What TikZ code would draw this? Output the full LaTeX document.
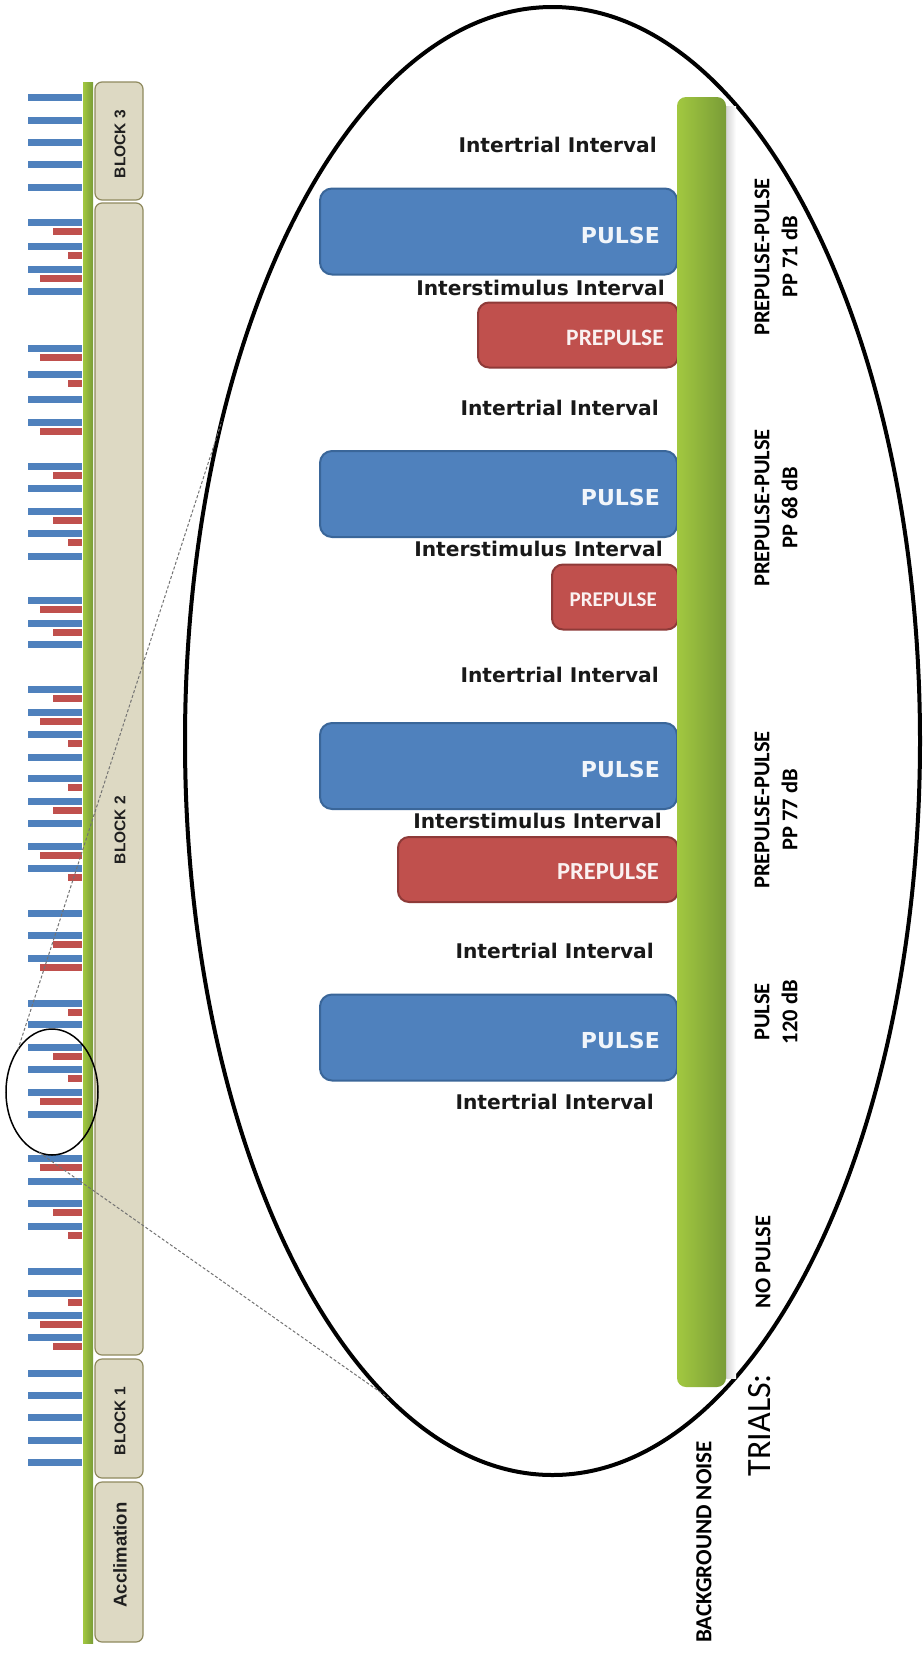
\documentclass[tikz,border=0pt]{standalone}
\usepackage{fontspec}
\usetikzlibrary{shapes.geometric}
\newfontfamily\dvs{DejaVu Sans}
\newfontfamily\carl{Carlito}
\newfontfamily\lib{Liberation Sans}
\definecolor{cblue}{HTML}{4F81BD}
\definecolor{cbluedk}{HTML}{3A6699}
\definecolor{cred}{HTML}{C0504D}
\definecolor{creddk}{HTML}{8E3A38}
\definecolor{cgreenL}{HTML}{A2C840}
\definecolor{cgreenR}{HTML}{799C37}
\definecolor{cgreen}{HTML}{8BB841}
\definecolor{cbeige}{HTML}{DDD9C3}
\definecolor{cbeigedk}{HTML}{8F8A5E}
\begin{document}
\begin{tikzpicture}[x=1pt,y=-1pt,
  bluebar/.style={fill=cblue},
  redbar/.style={fill=cred},
  blockbox/.style={draw=cbeigedk, line width=1.2pt, fill=cbeige, rounded corners=7pt, minimum width=48pt, inner sep=0pt, outer sep=0pt},
  blocklab/.style={rotate=90, inner sep=0pt, font=\lib\bfseries\fontsize{15.5}{18}\selectfont, text=black!88},
  pulsebox/.style={draw=cbluedk, line width=2pt, fill=cblue, rounded corners=12pt, inner sep=0pt, minimum height=86pt},
  prebox/.style={draw=creddk, line width=2pt, fill=cred, rounded corners=11pt, inner sep=0pt, minimum height=65pt},
  pulsetxt/.style={anchor=east, inner sep=0pt, text=white!92!cblue, font=\dvs\bfseries\fontsize{22}{24}\selectfont},
  pretxt/.style={anchor=east, inner sep=0pt, text=white!92!cred, font=\carl\bfseries\fontsize{23.5}{26}\selectfont},
  interval/.style={anchor=east, inner sep=0pt, font=\dvs\bfseries\fontsize{20.2}{22}\selectfont, text=black!90},
  triallab/.style={rotate=90, align=center, inner sep=0pt, font=\carl\bfseries\fontsize{22.5}{28}\selectfont},
  zoomline/.style={draw=black!55, line width=1pt, dash pattern=on 3pt off 2pt},
]
\fill[white] (0,0) rectangle (922,1655);
\useasboundingbox (0,0) rectangle (922,1655);

% ---- left overview strip: trials ----
\foreach \b in {97,120,142,164,187,222,246,269,291,348,374,399,422,466,488,511,533,556,600,623,644,689,712,734,757,778,801,823,846,868,913,935,958,1003,1024,1047,1069,1092,1114,1158,1181,1203,1226,1271,1293,1315,1337,1373,1395,1417,1440,1462}
  \fill[bluebar] (28,\b-3.5) rectangle (82,\b+3.5);
\foreach \b/\s in {222/53,246/68,269/40,348/40,374/68,422/40,466/53,511/53,533/68,600/40,623/53,689/53,712/40,734/68,778/68,801/53,846/40,868/68,935/53,958/40,1003/68,1047/53,1069/68,1092/40,1158/40,1203/53,1226/68,1293/68,1315/40,1337/53}
  \fill[redbar] (\s,\b+6) rectangle (82,\b+13);

\node[left color=cgreenL, right color=cgreenR, minimum width=10pt, minimum height=1561pt, inner sep=0pt, outer sep=0pt] (timeline) at (88,862.5) {};

\node[blockbox, minimum height=118pt] (blk3) at (119,141) {};
\node[blockbox, minimum height=1152pt] (blk2) at (119,779) {};
\node[blockbox, minimum height=119pt] (blk1) at (119,1418.5) {};
\node[blockbox, minimum height=160pt] (accl) at (119,1562) {};
\node[blocklab] (blk3t) at (120,144) {BLOCK 3};
\node[blocklab] (blk2t) at (120,830) {BLOCK 2};
\node[blocklab] (blk1t) at (120,1421) {BLOCK 1};
\node[blocklab, font=\lib\bfseries\fontsize{18.5}{20}\selectfont] (acclt) at (120,1555) {Acclimation};

% ---- ellipses and zoom lines ----
\node[draw, ellipse, line width=1.5pt, minimum width=92pt, minimum height=126pt, inner sep=0pt, outer sep=0pt] (smallE) at (52,1092) {};
\node[draw, ellipse, line width=4pt, minimum width=735pt, minimum height=1468pt, inner sep=0pt, outer sep=0pt] (bigE) at (552.5,741) {};
\draw[zoomline] (smallE.129.8) -- (bigE.136.1);
\draw[zoomline] (smallE.258.9) -- (bigE.256.6);

% ---- stimulus boxes ----
\node[pulsebox, minimum width=357pt] (p1) at (498.5,231.5) {};
\node[pulsebox, minimum width=357pt] (p2) at (498.5,494) {};
\node[pulsebox, minimum width=357pt] (p3) at (498.5,766) {};
\node[pulsebox, minimum width=357pt] (p4) at (498.5,1037.5) {};
\node[prebox, minimum width=200pt] (r1) at (578,335) {};
\node[prebox, minimum width=126pt] (r2) at (615,597) {};
\node[prebox, minimum width=280pt] (r3) at (538,869.5) {};

% ---- background noise bar ----
\shade[left color=black!18, right color=white] (725,106) rectangle (736,1378);
\node[rounded corners=9pt, minimum width=49pt, minimum height=1290pt, left color=cgreenL, right color=cgreenR, inner sep=0pt, outer sep=0pt] (noise) at (701.5,742) {};

% ---- box texts ----
\node[pulsetxt] (p1t) at (660,235) {PULSE};
\node[pulsetxt] (p2t) at (660,497) {PULSE};
\node[pulsetxt] (p3t) at (660,769) {PULSE};
\node[pulsetxt] (p4t) at (660,1040) {PULSE};
\node[pretxt] (r1t) at (664,338) {PREPULSE};
\node[pretxt, font=\carl\bfseries\fontsize{21}{24}\selectfont] (r2t) at (657,600) {PREPULSE};
\node[pretxt, font=\carl\bfseries\fontsize{24.5}{27}\selectfont] (r3t) at (659,872) {PREPULSE};

% ---- interval texts ----
\node[interval] (i1) at (657,145) {Intertrial Interval};
\node[interval] (s1) at (665,288) {Interstimulus Interval};
\node[interval] (i2) at (659,408) {Intertrial Interval};
\node[interval] (s2) at (663,549) {Interstimulus Interval};
\node[interval] (i3) at (659,675) {Intertrial Interval};
\node[interval] (s3) at (662,821) {Interstimulus Interval};
\node[interval] (i4) at (654,951) {Intertrial Interval};
\node[interval] (i5) at (654,1102) {Intertrial Interval};

% ---- trial labels ----
\node[triallab] (t1) at (776,257) {PREPULSE-PULSE\\PP 71 dB};
\node[triallab] (t2) at (776,508) {PREPULSE-PULSE\\PP 68 dB};
\node[triallab] (t3) at (776,810) {PREPULSE-PULSE\\PP 77 dB};
\node[triallab] (t4) at (776,1012) {PULSE\\120 dB};
\node[triallab] (t5) at (763,1262) {NO PULSE};
\node[rotate=90, inner sep=0pt, font=\carl\fontsize{34}{36}\selectfont] (trials) at (760,1425) {TRIALS:};
\node[rotate=90, inner sep=0pt, font=\carl\bfseries\fontsize{23}{26}\selectfont] (bgn) at (704,1542) {BACKGROUND NOISE};
\end{tikzpicture}
\end{document}
